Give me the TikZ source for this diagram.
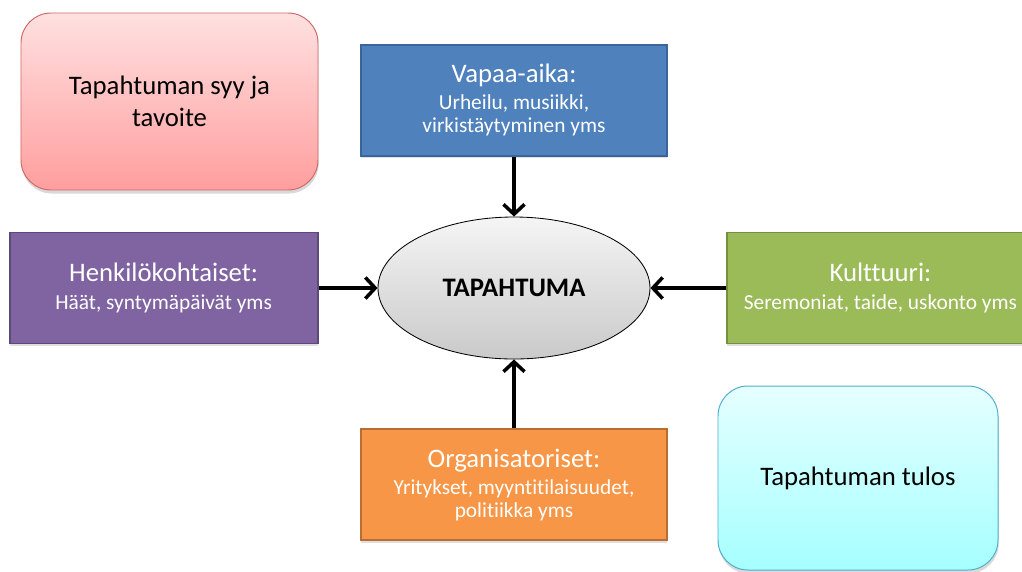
\documentclass[tikz,border=0pt]{standalone}
\usepackage{fontspec}
\setmainfont{Carlito}[Ligatures={NoCommon}]
\usetikzlibrary{arrows.meta,shapes.geometric,positioning,shadows}

\definecolor{sininen}{HTML}{4F81BD}
\definecolor{sininenreuna}{HTML}{3A659A}
\definecolor{violetti}{HTML}{8064A2}
\definecolor{violettireuna}{HTML}{5E4A7A}
\definecolor{vihrea}{HTML}{9BBB59}
\definecolor{vihreareuna}{HTML}{748F40}
\definecolor{oranssi}{HTML}{F79646}
\definecolor{oranssireuna}{HTML}{B86E33}
\definecolor{punareuna}{HTML}{D06A68}
\definecolor{syaanireuna}{HTML}{4FAFCB}

\newcommand{\isoteksti}{\fontsize{19}{23}\selectfont}
\newcommand{\pieniteksti}{\fontsize{15.2}{16.5}\selectfont}

\tikzset{
  % Define standard arrow tip
  >={Straight Barb[length=7pt,width=15pt]},
  % Define style for coloured boxes
  luokka/.style={
    rectangle,
    draw, line width=1.4pt,
    text=white,
    minimum width=7.65cm,
    minimum height=2.775cm,
    align=center,
    font=\pieniteksti,
    drop shadow={opacity=0.25, shadow xshift=0pt, shadow yshift=-1.5pt}},
  % Define style for rounded boxes
  pyorea/.style={
    rectangle,
    rounded corners=0.75cm,
    draw, line width=0.7pt,
    minimum width=7.425cm,
    minimum height=4.425cm,
    align=center,
    font=\isoteksti,
    drop shadow={opacity=0.3, shadow xshift=0.5pt, shadow yshift=-2.5pt}},
  % Define ellipse style
  keski/.style={
    ellipse, draw, line width=0.6pt,
    minimum width=6.8cm,
    minimum height=3.55cm,
    top color=gray!8, bottom color=gray!42,
    font=\isoteksti\bfseries},
  % Define arrow style
  nuoli/.style={->, line width=2.5pt},
}

\begin{document}
\begin{tikzpicture}[node distance=1.5cm]
  \useasboundingbox (-12.85,-7.075) rectangle (12.7,7.2);
  % nodes
  \node[keski] (tap) {TAPAHTUMA};
  \node[luokka, fill=sininen, draw=sininenreuna, above=1.5 of tap] (vapaa)
    {{\isoteksti Vapaa-aika:}\\[3pt] Urheilu, musiikki,\\ virkistäytyminen yms};
  \node[luokka, fill=violetti, draw=violettireuna, left=1.475 of tap, minimum width=7.7cm] (henk)
    {{\isoteksti Henkilökohtaiset:}\\[3pt] Häät, syntymäpäivät yms};
  \node[luokka, fill=vihrea, draw=vihreareuna, right=1.9 of tap] (kult)
    {{\isoteksti Kulttuuri:}\\[3pt] Seremoniat, taide, uskonto yms};
  \node[luokka, fill=oranssi, draw=oranssireuna, below=1.725 of tap] (org)
    {{\isoteksti Organisatoriset:}\\[3pt] Yritykset, myyntitilaisuudet,\\ politiikka yms};
  \node[pyorea, draw=punareuna, top color=red!12, bottom color=red!38] at (-8.6125,4.6625) (syy)
    {Tapahtuman syy ja\\ tavoite};
  \node[pyorea, draw=syaanireuna, top color=cyan!10, bottom color=cyan!35, minimum width=7cm, minimum height=4.6cm]
    at (8.6,-4.75) (tulos) {Tapahtuman tulos};
  % arrows
  \draw[nuoli] (vapaa) -- (tap);
  \draw[nuoli] (henk) -- (tap);
  \draw[nuoli] (kult) -- (tap);
  \draw[nuoli] (org) -- (tap);
\end{tikzpicture}
\end{document}
